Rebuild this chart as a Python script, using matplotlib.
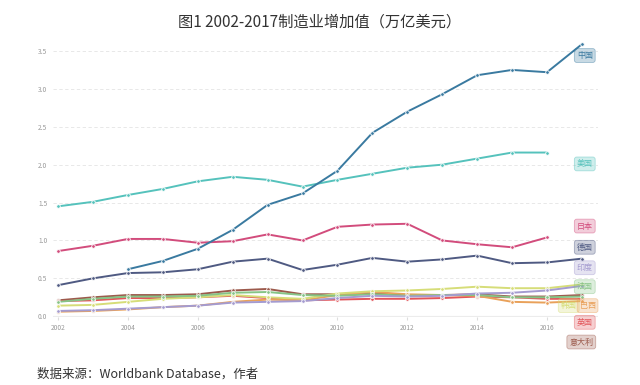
import numpy as np
import matplotlib
matplotlib.use('Agg')
import matplotlib.pyplot as plt

plt.rcParams['font.family'] = ['Noto Sans CJK SC', 'DejaVu Sans']

years = list(range(2002, 2018))

# manufacturing value added, trillion USD
china = [None, None, 0.62, 0.73, 0.89, 1.14, 1.47, 1.62, 1.92, 2.42, 2.70, 2.93, 3.18, 3.25, 3.22, 3.59]
usa = [1.45, 1.51, 1.60, 1.68, 1.78, 1.84, 1.80, 1.71, 1.80, 1.88, 1.96, 2.00, 2.08, 2.16, 2.16, None]
japan = [0.86, 0.93, 1.02, 1.02, 0.97, 0.99, 1.08, 1.00, 1.18, 1.21, 1.22, 1.00, 0.95, 0.91, 1.04, None]
germany = [0.41, 0.50, 0.57, 0.58, 0.62, 0.72, 0.76, 0.61, 0.68, 0.77, 0.72, 0.75, 0.80, 0.70, 0.71, 0.76]
india = [0.07, 0.08, 0.10, 0.12, 0.14, 0.18, 0.19, 0.20, 0.24, 0.27, 0.26, 0.27, 0.30, 0.31, 0.34, 0.40]
france = [0.19, 0.23, 0.26, 0.26, 0.27, 0.31, 0.32, 0.28, 0.27, 0.29, 0.27, 0.28, 0.28, 0.25, 0.25, 0.26]
korea = [0.14, 0.15, 0.19, 0.23, 0.25, 0.28, 0.25, 0.23, 0.30, 0.33, 0.34, 0.36, 0.39, 0.37, 0.37, 0.42]
brazil = [0.06, 0.07, 0.09, 0.12, 0.14, 0.19, 0.22, 0.21, 0.28, 0.32, 0.29, 0.28, 0.27, 0.19, 0.18, 0.20]
uk = [0.20, 0.21, 0.24, 0.24, 0.25, 0.27, 0.24, 0.21, 0.22, 0.23, 0.23, 0.24, 0.26, 0.25, 0.23, 0.23]
italy = [0.21, 0.25, 0.28, 0.28, 0.29, 0.34, 0.36, 0.29, 0.29, 0.31, 0.28, 0.28, 0.29, 0.26, 0.26, 0.28]

names = ['中国', '美国', '日本', '德国', '印度', '法国', '韩国', '巴西', '英国', '意大利']
series = [china, usa, japan, germany, india, france, korea, brazil, uk, italy]
colors = ['#3a7aa0', '#55c2bc', '#d24c7c', '#4f5a82', '#a49bd0',
          '#86c486', '#d6dd78', '#e9a15a', '#e2555a', '#9c5a4c']

# end labels are pushed apart like in the original widget
label_pos = [(2017.08, 3.44), (2017.08, 2.01), (2017.08, 1.19), (2017.08, 0.91),
             (2017.08, 0.64), (2017.08, 0.39), (2016.62, 0.14), (2017.16, 0.14),
             (2017.08, -0.08), (2016.98, -0.34)]

fig = plt.figure(figsize=(6.4, 3.85), dpi=100)
ax = fig.add_axes([0.0825, 0.1766, 0.8514, 0.7146])

for y in [0.5, 1.0, 1.5, 2.0, 2.5, 3.0, 3.5]:
    ax.axhline(y, color='#e4e4e4', lw=0.6, ls=(0, (4, 3)), zorder=0)
ax.axhline(0, color='#ececec', lw=0.8, zorder=0)

# draw lower series first so the big ones sit on top
for name, vals, c in reversed(list(zip(names, series, colors))):
    v = np.array([np.nan if x is None else x for x in vals], dtype=float)
    ax.plot(years, v, color=c, lw=1.4, marker='o', ms=2.6,
            mfc=c, mec='white', mew=0.6, zorder=3, solid_capstyle='round')

for name, c, (lx, ly) in zip(names, colors, label_pos):
    ax.text(lx, ly, name, fontsize=5.8, color=c, ha='center', va='center',
            clip_on=False, zorder=5,
            bbox=dict(boxstyle='round,pad=0.3', fc=matplotlib.colors.to_rgba(c, 0.28),
                      ec=matplotlib.colors.to_rgba(c, 0.45), lw=0.6))

ax.set_xlim(2001.85, 2017.45)
ax.set_ylim(-0.01, 3.62)
ax.set_xticks(list(range(2002, 2017, 2)))
ax.set_yticks([0.0, 0.5, 1.0, 1.5, 2.0, 2.5, 3.0, 3.5])
ax.set_yticklabels(['0.0', '0.5', '1.0', '1.5', '2.0', '2.5', '3.0', '3.5'])
ax.tick_params(axis='both', labelsize=4.8, colors='#9a9a9a', length=0, pad=4)
ax.tick_params(axis='x', length=2, color='#dddddd', pad=3)
for s in ax.spines.values():
    s.set_visible(False)

fig.text(0.5, 0.943, '图1 2002-2017制造业增加值（万亿美元）', ha='center', va='center',
         fontsize=11, color='#333333')
fig.text(0.058, 0.029, '数据来源：Worldbank Database，作者', ha='left', va='center',
         fontsize=9, color='#333333')

fig.savefig('out.png', dpi=100)
